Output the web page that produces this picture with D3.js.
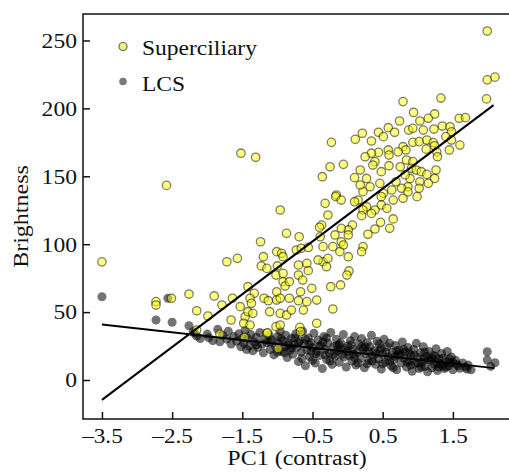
<!DOCTYPE html>
<html>
<head>
<meta charset="utf-8">
<script src="https://cdn.jsdelivr.net/npm/d3@7"></script>
<style>
  body { margin: 0; background: #fff; }
</style>
</head>
<body>
<div id="chart"></div>
<script>
// Superciliary points [PC1, brightness]
var superciliary = [
  [-3.5,87],[-2.58,143.3],[-1.52,167],[-1.31,164],[1.99,257],[1.99,221],[2.10,223],[1.98,207],[1.33,207.6],[0.79,205],[0.94,197],
  [1.24,195.9],[1.15,192.7],[0.74,190.7],[1.59,192.7],[1.68,193.2],[1.03,190.7],[0.58,185.8],[0.67,182.4],[0.44,182.4],[0.51,179.2],
  [0.21,181.7],[0.11,177.2],[0.34,176],[-0.23,175],[0.87,184],[0.93,185.3],[1.08,184],[1.23,184.8],[1.35,187],[1.46,186.5],
  [1.48,182.8],[1.40,179.2],[1.48,176.7],[1.60,173],[1.45,169.4],[0.93,175],[1.02,175.5],[1.13,176.7],[1.22,174.8],[1.24,172.5],
  [1.12,170],[1.27,168],[1.28,164.4],[0.79,171.8],[0.83,169.4],[0.72,168],[0.58,169.4],[0.59,165.7],[0.44,167.6],[0.34,167],
  [0.39,160.8],[0.36,158.3],[0.25,164.4],[-0.06,158.8],[-0.25,157],[-0.36,149.7],[0.10,149],[0.18,154.6],[0.27,148.4],[0.48,153.4],
  [0.59,157.8],[0.75,157],[0.84,162],[0.93,160.8],[0.91,155.9],[0.98,154.6],[1.05,153.4],[1.13,151.4],[1.24,148.4],[1.26,154.6],
  [0.89,148.4],[0.82,151],[1.03,146],[1.15,144.8],[1.02,141.2],[0.86,142.3],[0.77,141.2],[0.69,146],[0.63,139.9],[0.22,138.7],
  [0.32,142.3],[0.46,144.8],[0.18,143.6],[-0.16,136.2],
  [0.51,137.5],[0.86,138.5],[0.99,135],[0.79,133.8],[0.65,132.5],[0.48,135],[0.48,128.9],[0.56,126.4],[0.39,125.2],[0.34,122.7],
  [0.27,127.6],[0.22,125.2],[0.15,132.5],[0.10,131.3],[0.20,121],[0.47,116.1],[0.65,118.6],[0.60,111.7],[0.39,111.2],[0.29,107.3],
  [0.07,114.1],[0.01,110.5],[-0.09,111.7],[-0.17,135],[-0.09,132.5],[-0.32,130.1],[-0.28,121.5],[-0.37,114.1],[-0.18,106.8],[0.01,106.8],
  [-0.09,101.8],[-0.06,99.4],[-0.35,98.2],[-0.21,98.2],[-0.11,94.5],[0.22,98.2],[0.20,94.5],[0.01,90.8],[-0.35,87.1],[-0.30,83.4],
  [-0.28,89.6],[0.02,80.3],[-0.01,77.3],[-0.24,68.7],[-0.10,70],[-0.21,52.3],
  [-0.96,125.2],[-0.40,112.5],[-0.87,108],[-0.69,105.5],[-1.24,101.8],[-1.01,94.5],[-0.94,93.3],[-0.73,95.7],[-0.66,97],[-0.56,97.6],
  [-1.20,90.8],[-0.42,88.4],[-0.58,85.9],[-0.56,80.5],[-0.70,84.7],[-1.23,84],[-1.15,82.2],[-1.00,84],[-1.02,77.3],[-1.72,87.1],
  [-1.57,89.6],[-0.70,77.3],[-0.64,73.6],[-0.92,72.4],[-0.89,69.2],[-0.83,72.4],[-0.51,67.5],[-0.67,65],[-1.01,65],[-1.19,60.2],
  [-1.13,58.4],[-1.33,63.8],[-1.42,68.7],[-1.39,60.2],[-1.37,56.5],[-1.01,58.9],[-0.96,60.2],[-0.83,60.2],[-0.70,58.4],[-0.58,57.7],
  [-0.44,58.9],[-1.53,54],[-1.64,60.2],[-1.90,61.9],[-1.79,55.2],[-2.26,63.3],[-2.51,60.2],[-2.15,51],[-1.99,47.1],[-1.66,44.2],
  [-1.46,46.6],[-1.42,50.3],[-1.35,49.1],[-1.48,41.8],[-1.39,40.5],[-1.11,50.3],[-0.96,49.1],[-0.87,47.9],[-0.80,51.5],[-0.63,51.5],
  [-0.44,41.8],[-1.02,39.3],[-0.96,40.5],[-0.68,38.8],[-0.67,35.6],[-1.82,33.9],[-2.15,36.8],[-1.15,34.4],
  [-2.73,57.7],[-2.73,55.2],[-1.47,31.4],[-1.14,34.8],[-0.99,23.3],[-0.92,90.8],[-0.39,105.5],[-0.92,78.5]
];

// LCS points [PC1, brightness]
var lcs = [
  [-3.5,61.3],[-2.56,60.2],[-2.73,44.2],[-2.50,42.5],[-2.26,40.0],[-2.18,34.4],
  [-2.2,35.5],[-2.15,32.4],[-2.1,30.5],[-2.0,33.8],[-1.98,31.2],[-1.92,29.0],[-1.85,37.3],[-1.82,28.2],[-1.78,33.0],[-1.72,30.2],
  [-1.70,36.0],[-1.66,26.5],[-1.62,32.0],[-1.58,28.5],[-1.55,34.0],[-1.52,24.5],[-1.50,30.8],[-1.48,27.0],[-1.46,36.5],[-1.44,22.5],
  [-1.42,30.5],[-1.40,25.0],[-1.38,33.5],[-1.35,21.5],[-1.33,28.0],[-1.30,31.5],[-1.28,24.0],[-1.25,35.0],[-1.22,26.5],[-1.20,20.0],
  [-1.18,30.0],[-1.15,27.5],[-1.12,33.0],[-1.10,22.5],[-1.08,29.5],[-1.05,18.5],[-1.03,25.0],[-1.00,32.0],[-0.98,27.0],[-0.96,36.0],
  [-0.94,21.0],[-0.92,29.0],[-0.90,24.5],[-0.88,33.0],[-0.86,16.5],[-0.84,27.0],[-0.82,22.0],[-0.80,30.5],[-0.78,19.0],[-0.76,26.0],
  [-0.74,34.0],[-0.72,24.0],[-0.70,13.5],[-0.68,29.0],[-0.66,20.5],[-0.64,36.0],[-0.62,26.5],[-0.60,10.5],[-0.58,22.0],[-0.56,31.0],
  [-0.54,17.0],[-0.52,27.5],[-0.50,24.0],[-0.48,34.5],[-0.46,12.5],[-0.44,21.0],[-0.42,29.5],[-0.40,18.0],[-0.38,25.5],[-0.36,8.5],
  [-0.34,32.0],[-0.32,22.5],[-0.30,15.0],[-0.28,27.0],[-0.26,20.0],[-0.24,35.0],[-0.22,11.5],[-0.20,24.5],[-0.18,17.5],[-0.16,30.0],
  [-0.14,21.5],[-0.12,13.0],[-0.10,27.5],[-0.08,19.0],[-0.06,33.5],[-0.04,23.0],[-0.02,9.5],[0.00,25.0],
  [0.02,18.0],[0.04,29.0],[0.06,14.0],[0.08,22.5],[0.10,32.0],[0.12,11.0],[0.14,20.5],[0.16,26.5],[0.18,16.0],[0.20,30.5],
  [0.22,23.0],[0.24,9.0],[0.26,19.5],[0.28,27.5],[0.30,14.5],[0.32,24.5],[0.34,33.0],[0.36,17.5],[0.38,21.5],[0.40,11.5],
  [0.42,28.5],[0.44,15.5],[0.46,22.0],[0.48,8.0],[0.50,19.0],[0.52,30.0],[0.54,13.0],[0.56,24.5],[0.58,17.0],[0.60,27.0],
  [0.62,10.5],[0.64,20.5],[0.66,15.0],[0.68,25.5],[0.70,7.5],[0.72,18.5],[0.74,22.0],[0.76,12.5],[0.78,28.0],[0.80,16.0],
  [0.82,20.5],[0.84,9.5],[0.86,24.0],[0.88,14.0],[0.90,18.0],[0.92,6.5],[0.94,22.5],[0.96,12.0],[0.98,27.0],[1.00,16.5],
  [1.02,8.5],[1.04,20.0],[1.06,13.0],[1.08,24.5],[1.10,10.0],[1.12,17.5],[1.14,6.0],[1.16,21.0],[1.18,14.5],[1.20,9.0],
  [1.22,18.0],[1.24,11.5],[1.26,23.0],[1.28,7.0],[1.30,15.5],[1.32,12.0],[1.34,19.5],[1.36,16.0],[1.38,8.5],[1.40,13.5],
  [1.42,21.0],[1.44,10.5],[1.46,12.7],[1.48,17.0],[1.50,7.5],
  [1.54,14.5],[1.58,10.5],[1.60,8.6],[1.64,12.5],[1.68,9.5],[1.72,11.0],[1.76,7.5],[1.99,20.8],[1.99,14.7],[2.10,12.7],[2.04,10.0],
  [-0.95,30.5],[-0.85,25.5],[-0.75,31.0],[-0.65,16.0],[-0.55,26.0],[-0.45,19.5],[-0.35,28.0],[-0.25,14.0],[-0.15,25.5],[-0.05,17.0],
  [0.05,26.0],[0.15,12.5],[0.25,24.5],[0.35,14.0],[0.45,26.5],[0.55,20.5],[0.65,9.0],[0.75,19.0],[0.85,13.0],[0.95,18.5],
  [1.05,9.5],[1.15,15.0],[1.25,17.5],[1.35,10.5],[1.45,15.5],[1.55,11.5],
  [-0.9,20.0],[-0.7,27.5],[-0.5,14.5],[-0.3,31.0],[-0.1,22.5],[0.1,16.5],[0.3,21.0],[0.5,12.0],[0.7,21.5],[0.9,11.0],
  [1.1,20.5],[1.3,9.5],[1.5,13.0],[1.7,8.0],
  [-1.3,26.0],[-1.1,28.0],[-1.0,20.5],[-0.8,23.5],[-0.6,30.0],[-0.4,25.0],[-0.2,19.0],[0.0,21.0],[0.2,24.5],[0.4,19.5],
  [0.6,14.0],[0.8,22.5],[1.0,12.5],[1.2,16.0],[1.4,9.5],
  [-0.52,21.0],[-0.32,18.5],[-0.12,26.0],[0.08,19.0],[0.28,12.0],[0.48,23.5],[0.68,17.5],[0.88,20.0],[1.08,15.5],[1.28,12.5]
];

// fitted lines: [x start, x end, intercept, slope]
var supFit = [-3.5, 2.08, 121.5, 38.9];
var lcsFit = [-3.5, 2.09, 20.8, -5.76];

var xTicks = [-3.5, -2.5, -1.5, -0.5, 0.5, 1.5];
var yTicks = [0, 50, 100, 150, 200, 250];
var seriesNames = ["Superciliary", "LCS"];

var width = 509, height = 476;
var margin = {left: 83, right: 509, top: 14, bottom: 419};
var serif = "'Liberation Serif'";

var svg = d3.select("#chart").append("svg")
    .attr("width", width)
    .attr("height", height);

var x = d3.scaleLinear().domain([-3.77, 2.30]).range([margin.left, margin.right]);
var y = d3.scaleLinear().domain([-28.7, 269.5]).range([margin.bottom, margin.top]);

// serif text, stretched a bit so it takes the width of the original face
function serifText(sel, size, k) {
    sel.style("font-family", serif).style("font-size", size + "px").style("fill", "#111");
    sel.each(function() {
        var w = this.getComputedTextLength();
        d3.select(this).attr("textLength", w * k).attr("lengthAdjust", "spacingAndGlyphs");
    });
}

// points: LCS first, superciliary on top
svg.append("g").selectAll("circle")
    .data(lcs)
    .enter().append("circle")
    .attr("cx", function(d) { return x(d[0]); })
    .attr("cy", function(d) { return y(d[1]); })
    .attr("r", 4.5)
    .style("fill", "rgba(0,0,0,0.55)");

svg.append("g").selectAll("circle")
    .data(superciliary)
    .enter().append("circle")
    .attr("cx", function(d) { return x(d[0]); })
    .attr("cy", function(d) { return y(d[1]); })
    .attr("r", 4.2)
    .style("fill", "rgba(255,255,0,0.5)")
    .style("stroke", "rgba(0,0,0,0.5)")
    .style("stroke-width", 1.3);

// regression lines
[supFit, lcsFit].forEach(function(f) {
    svg.append("line")
        .attr("x1", x(f[0])).attr("y1", y(f[2] + f[3] * f[0]))
        .attr("x2", x(f[1])).attr("y2", y(f[2] + f[3] * f[1]))
        .style("stroke", "#000")
        .style("stroke-width", 2);
});

// axes
var xAxis = svg.append("g")
    .attr("transform", "translate(0," + margin.bottom + ")")
    .call(d3.axisBottom(x).tickValues(xTicks).tickSizeInner(-7).tickSizeOuter(0)
        .tickFormat(function(d) { return d3.format(".1f")(d).replace(/[-\u2212]/, "\u2013"); }));
xAxis.select(".domain").remove();
xAxis.selectAll("line").style("stroke", "#111").style("stroke-width", 1.5);
xAxis.selectAll("text")
    .attr("y", 24).attr("dy", 0)
    .call(serifText, 20, 1.16);

var yAxis = svg.append("g")
    .attr("transform", "translate(" + margin.left + ",0)")
    .call(d3.axisLeft(y).tickValues(yTicks).tickSizeInner(-7).tickSizeOuter(0));
yAxis.select(".domain").remove();
yAxis.selectAll("line").style("stroke", "#111").style("stroke-width", 1.5);
yAxis.selectAll("text")
    .attr("x", -6).attr("dy", "0.34em")
    .call(serifText, 20, 1.18);

// frame: left, top and bottom
svg.append("path")
    .attr("d", "M" + margin.right + "," + margin.top + "H" + margin.left + "V" + margin.bottom + "H" + margin.right)
    .style("fill", "none")
    .style("stroke", "#111")
    .style("stroke-width", 1.5);

// axis titles
svg.append("text")
    .attr("x", (margin.left + margin.right) / 2 + 1).attr("y", 465)
    .attr("text-anchor", "middle")
    .text("PC1 (contrast)")
    .call(serifText, 20, 1.2);

svg.append("text")
    .attr("transform", "translate(28," + (margin.top + margin.bottom) / 2 + ") rotate(-90)")
    .attr("text-anchor", "middle")
    .text("Brightness")
    .call(serifText, 20, 1.2);

// legend
var legend = svg.append("g");
legend.append("circle").attr("cx", 123).attr("cy", 46.5).attr("r", 4)
    .style("fill", "#f2f27a").style("stroke", "#666").style("stroke-width", 1.2);
legend.append("circle").attr("cx", 123).attr("cy", 81.5).attr("r", 3.8)
    .style("fill", "#7a7a7a");
legend.selectAll("text")
    .data(seriesNames)
    .enter().append("text")
    .attr("x", 142)
    .attr("y", function(d, i) { return 55 + i * 36; })
    .text(function(d) { return d; })
    .call(serifText, 21, 1.12);
</script>
</body>
</html>
